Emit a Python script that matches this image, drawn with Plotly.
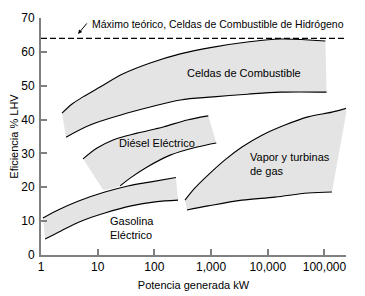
import plotly.graph_objects as go

# ---- data (power in kW, efficiency in % LHV) ----
fc_top_x = [2.35, 3.53, 5.52, 11.0, 28.1, 84.3, 286, 1094, 4365, 16700, 104000]
fc_top_y = [41.9, 44.6, 46.7, 49.6, 53.5, 56.7, 59.4, 61.4, 62.9, 63.8, 63.2]
fc_low_x = [2.77, 7.34, 24.9, 84.3, 288, 1100, 4370, 16600, 109000]
fc_low_y = [34.8, 38.4, 41.3, 43.7, 45.8, 46.7, 47.5, 48.1, 48.1]

de_top_x = [5.52, 9.76, 18.7, 49.7, 143, 380, 893]
de_top_y = [28.4, 31.6, 34.0, 36.0, 37.8, 39.9, 41.1]
de_low_x = [12.5, 24.9, 37.3, 74.6, 190, 570, 1236]
de_low_y = [19.2, 20.4, 22.7, 26.0, 29.5, 31.9, 33.1]

ga_top_x = [1.08, 2.0, 4.49, 13.4, 34.2, 87.1, 240]
ga_top_y = [10.9, 13.3, 15.9, 18.6, 20.4, 21.6, 22.9]
ga_low_x = [1.18, 2.25, 5.08, 13.4, 38.7, 103, 261]
ga_low_y = [4.7, 7.1, 10.0, 12.4, 14.5, 15.7, 16.2]

vt_top_x = [347, 520, 882, 1758, 3508, 7910, 20100, 51200, 135500, 251000]
vt_top_y = [16.2, 19.8, 23.6, 28.1, 31.9, 35.4, 38.4, 40.8, 42.2, 43.4]
vt_low_x = [376, 882, 3508, 13400, 51200, 135500]
vt_low_y = [13.3, 14.5, 16.2, 17.1, 18.3, 18.6]

theoretical_max = 64
x_ticks = [1, 10, 100, 1000, 10000, 100000]
x_tick_labels = ["1", "10", "100", "1,000", "10,000", "100,000"]
y_ticks = [0, 10, 20, 30, 40, 50, 60, 70]

FILL = "#e4e4e4"
FONT = "Liberation Sans, Arial, sans-serif"

fig = go.Figure()

bands = [
    (fc_low_x, fc_low_y, fc_top_x, fc_top_y),
    (ga_low_x, ga_low_y, ga_top_x, ga_top_y),
    (de_low_x, de_low_y, de_top_x, de_top_y),
    (vt_low_x, vt_low_y, vt_top_x, vt_top_y),
]

# fills
for lx, ly, tx, ty in bands:
    fig.add_trace(go.Scatter(x=lx, y=ly, mode="lines", line=dict(width=0, shape="spline", color=FILL),
                             hoverinfo="skip", showlegend=False))
    fig.add_trace(go.Scatter(x=tx, y=ty, mode="lines", fill="tonexty", fillcolor=FILL,
                             line=dict(width=0, shape="spline", color=FILL),
                             hoverinfo="skip", showlegend=False))

# outline curves
curves = [
    (fc_top_x, fc_top_y), (fc_low_x, fc_low_y),
    (ga_top_x, ga_top_y), (ga_low_x, ga_low_y),
    (de_top_x, de_top_y), (de_low_x[1:], de_low_y[1:]),
    (vt_top_x, vt_top_y), (vt_low_x, vt_low_y),
]
for cx, cy in curves:
    fig.add_trace(go.Scatter(x=cx, y=cy, mode="lines",
                             line=dict(color="black", width=1.1, shape="spline"),
                             hoverinfo="skip", showlegend=False))

# theoretical maximum dashed line
fig.add_trace(go.Scatter(x=[1, 10 ** 5.41], y=[theoretical_max, theoretical_max], mode="lines",
                         line=dict(color="black", width=1.3, dash="6px,3px"),
                         hoverinfo="skip", showlegend=False))

lab = dict(family=FONT, size=11, color="black")
fig.add_annotation(x=0.866, y=68.2, xref="x", yref="y", text="Máximo teórico, Celdas de Combustible de Hidrógeno",
                   showarrow=False, xanchor="left", yanchor="middle", font=dict(family=FONT, size=10.5, color="black"))
fig.add_annotation(x=0.654, y=65.3, xref="x", yref="y", text="", showarrow=True,
                   ax=10, ay=-12, arrowhead=2, arrowsize=0.8, arrowwidth=1, arrowcolor="black")
fig.add_annotation(x=3.587, y=53.7, text="Celdas de Combustible", showarrow=False,
                   xanchor="center", yanchor="middle", font=lab)
fig.add_annotation(x=2.049, y=33.1, text="Diésel Eléctrico", showarrow=False,
                   xanchor="center", yanchor="middle", font=lab)
fig.add_annotation(x=1.184, y=8.1, text="Gasolina<br>Eléctrico", showarrow=False, align="left",
                   xanchor="left", yanchor="middle", font=lab)
fig.add_annotation(x=3.657, y=27.0, text="Vapor y turbinas<br>de gas", showarrow=False, align="left",
                   xanchor="left", yanchor="middle", font=lab)

axis_common = dict(showline=True, linecolor="#808080", linewidth=2, ticks="inside", ticklen=6,
                   tickcolor="#808080", tickwidth=1.5, showgrid=False, zeroline=False, automargin=False,
                   tickfont=dict(family=FONT, size=12, color="black"))

fig.update_xaxes(type="log", range=[0, 5.38], tickvals=x_ticks, ticktext=x_tick_labels,
                 title=dict(text="Potencia generada kW", font=dict(family=FONT, size=11, color="black"), standoff=8),
                 **axis_common)
fig.update_yaxes(range=[0, 70], tickvals=y_ticks, ticklabelstandoff=2,
                 title=dict(text="Eficiencia % LHV", font=dict(family=FONT, size=11, color="black"), standoff=7),
                 **axis_common)

# page body has an 8px default margin: compensate so the chart lands on the same pixels
fig.update_layout(width=357, height=288, margin=dict(l=33, r=19, t=10, b=41),
                  plot_bgcolor="white", paper_bgcolor="white", showlegend=False)

fig.write_html("out.html")
